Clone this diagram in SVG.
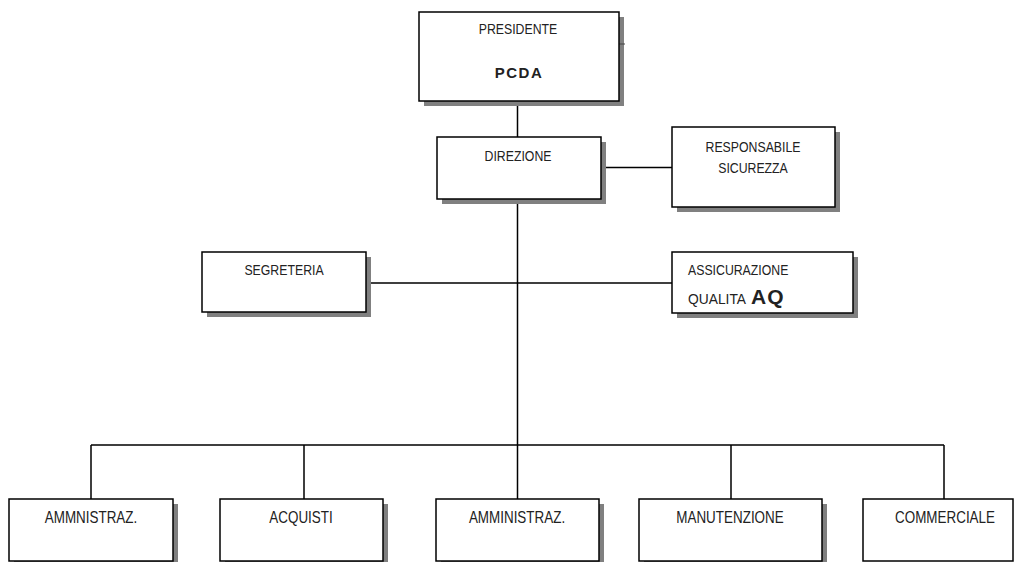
<svg xmlns="http://www.w3.org/2000/svg" width="1017" height="562" viewBox="0 0 1017 562">
<defs>
<style>
.box{fill:#fff;stroke:#000;stroke-width:1.5}
.sh{fill:#808080}
.t{font-family:"Liberation Sans",Arial,sans-serif;font-size:15px;fill:#222;text-anchor:middle}
.tb{font-family:"Liberation Sans",Arial,sans-serif;font-size:16px;fill:#222;text-anchor:middle}
.c{fill:none;stroke:#000;stroke-width:1.5}
</style>
</defs>
<rect width="1017" height="562" fill="#fff"/>
<g id="connectors">
<path class="c" d="M517.5 101V137M517.5 199V499M601 167.5H672M366 283H672M91 445H944M91 445V499M304 445V499M731 445V499M944 445V499"/>
</g>
<g id="presidente">
<rect class="sh" x="424" y="17" width="200" height="89"/>
<line x1="619" y1="44" x2="625" y2="44" stroke="#444" stroke-width="1"/>
<rect class="box" x="419" y="12" width="200" height="89"/>
<text class="t" transform="translate(518 34) scale(0.82 1)">PRESIDENTE</text>
<text x="519" y="78" style="font-family:'Liberation Sans',Arial,sans-serif;font-size:15px;font-weight:bold;letter-spacing:1.5px;text-anchor:middle;fill:#222">PCDA</text>
</g>
<g id="direzione">
<rect class="sh" x="442" y="142" width="164" height="62"/>
<rect class="box" x="437" y="137" width="164" height="62"/>
<text class="t" transform="translate(518 160.5) scale(0.82 1)">DIREZIONE</text>
</g>
<g id="responsabile">
<rect class="sh" x="677" y="132" width="163" height="80"/>
<rect class="box" x="672" y="127" width="163" height="80"/>
<text class="t" transform="translate(753 152) scale(0.82 1)">RESPONSABILE</text>
<text class="t" transform="translate(753 173) scale(0.82 1)">SICUREZZA</text>
</g>
<g id="segreteria">
<rect class="sh" x="207" y="257" width="164" height="60"/>
<rect class="box" x="202" y="252" width="164" height="60"/>
<text class="t" transform="translate(284 275) scale(0.82 1)">SEGRETERIA</text>
</g>
<g id="assicurazione">
<rect class="sh" x="677" y="257" width="181" height="61"/>
<rect class="box" x="672" y="252" width="181" height="61"/>
<text class="t" style="text-anchor:start" transform="translate(688 275) scale(0.82 1)">ASSICURAZIONE</text>
<text class="t" style="text-anchor:start" transform="translate(688 304) scale(0.92 1)">QUALITA</text>
<text x="751" y="304" style="font-family:'Liberation Sans',Arial,sans-serif;font-size:21px;font-weight:bold;letter-spacing:1px;fill:#222">AQ</text>
</g>
<g id="amministraz1">
<rect class="sh" x="14" y="504" width="164" height="62"/>
<rect class="box" x="9" y="499" width="164" height="62"/>
<text class="tb" transform="translate(91 523) scale(0.84 1)">AMMNISTRAZ.</text>
</g>
<g id="acquisti">
<rect class="sh" x="225" y="504" width="163" height="62"/>
<rect class="box" x="220" y="499" width="163" height="62"/>
<text class="tb" transform="translate(301 523) scale(0.84 1)">ACQUISTI</text>
</g>
<g id="amministraz2">
<rect class="sh" x="441" y="504" width="163" height="62"/>
<rect class="box" x="436" y="499" width="163" height="62"/>
<text class="tb" transform="translate(517 523) scale(0.84 1)">AMMINISTRAZ.</text>
</g>
<g id="manutenzione">
<rect class="sh" x="644" y="504" width="183" height="62"/>
<rect class="box" x="639" y="499" width="183" height="62"/>
<text class="tb" transform="translate(730 523) scale(0.84 1)">MANUTENZIONE</text>
</g>
<g id="commerciale">
<rect class="box" x="863" y="499" width="150" height="62"/>
<text class="tb" transform="translate(945 523) scale(0.84 1)">COMMERCIALE</text>
</g>
</svg>
